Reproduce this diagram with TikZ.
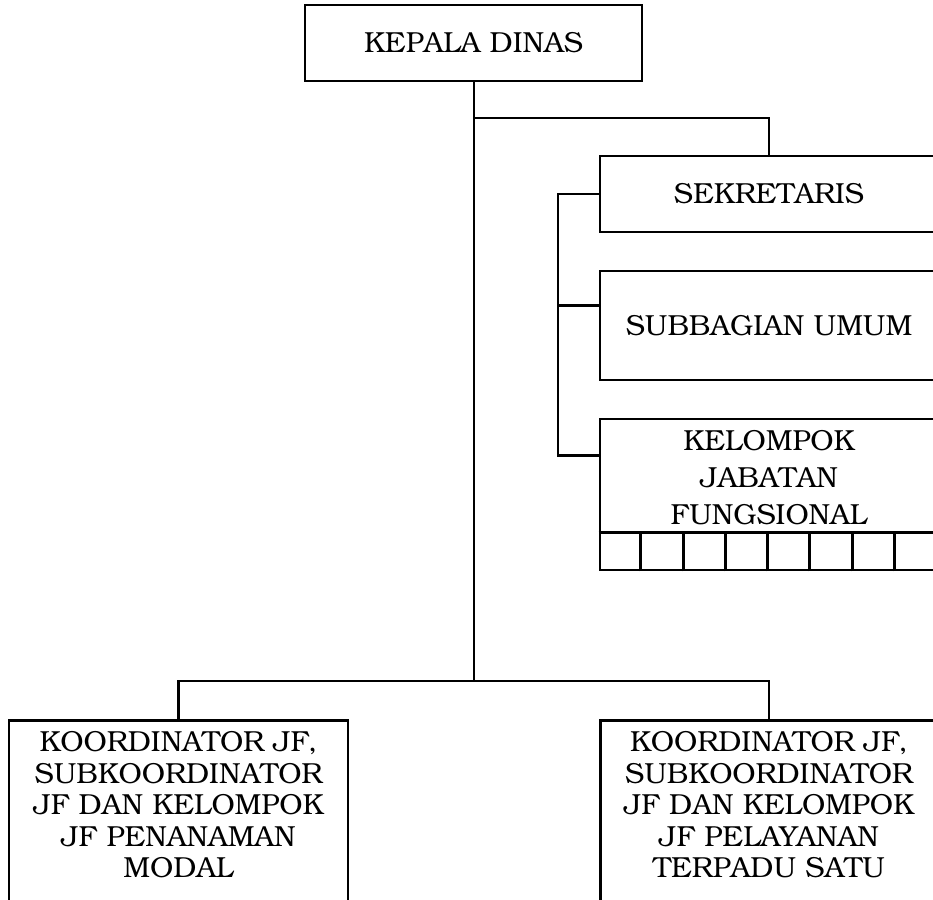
\documentclass[tikz,border=0pt]{standalone}
\usepackage[T1]{fontenc}
\usepackage{bookman}
\usetikzlibrary{calc}
\begin{document}
\begin{tikzpicture}[x=1pt,y=-1pt,
  line width=2.9pt,
  box/.style={draw, rectangle, inner sep=0pt, align=center, font=\fontsize{29}{31}\selectfont},
  txt/.style={inner sep=0pt, align=center, font=\fontsize{29}{31.5}\selectfont}]
\clip (0,0) rectangle (933,899);
% top
\node[box, minimum width=337, minimum height=76] (kepala) at (473.5,43) {KEPALA DINAS};
\node[box, minimum width=338, minimum height=76] (sek) at (769,194) {SEKRETARIS};
\node[box, minimum width=338, minimum height=109] (sub) at (769,325.5) {SUBBAGIAN UMUM};
\node[box, minimum width=338, minimum height=151] (kjf) at (769,494.5) {};
\node[txt, font=\fontsize{29}{37}\selectfont] (kjft) at (769,478) {KELOMPOK\\JABATAN\\FUNGSIONAL};
\draw (kjf.south west) ++(0,-39) -- ++(338,0);
\foreach \i in {1,...,7}{
  \draw ($(kjf.south west)+(42.25*\i,0)$) -- ++(0,-39);
}
% bottom boxes
\node[draw, rectangle, minimum width=339, minimum height=300, anchor=north] (kl) at (178.5,719) {};
\node[draw, rectangle, minimum width=337, minimum height=300, anchor=north] (kr) at (769,719) {};
\node[txt, anchor=north] (klt) at (178.5,730) {KOORDINATOR JF,\\SUBKOORDINATOR\\JF DAN KELOMPOK\\JF PENANAMAN\\MODAL};
\node[txt, anchor=north] (krt) at (769,730) {KOORDINATOR JF,\\SUBKOORDINATOR\\JF DAN KELOMPOK\\JF PELAYANAN\\TERPADU SATU};
% connectors
\coordinate (ja) at (474,118);
\coordinate (jb) at (474,681);
\draw (kepala.south -| jb) -- (jb);
\draw (ja) -| (sek.north);
\draw (kl.north) |- (jb) -| (kr.north);
\coordinate (bx) at (558,0);
\coordinate (ck) at ($(kjf.north west)+(0,38)$);
\coordinate (cs) at ($(sub.north west)+(0,36)$);
\draw (sek.west) -| (ck -| bx) -- (ck);
\draw (cs -| bx) -- (cs);
\end{tikzpicture}
\end{document}
